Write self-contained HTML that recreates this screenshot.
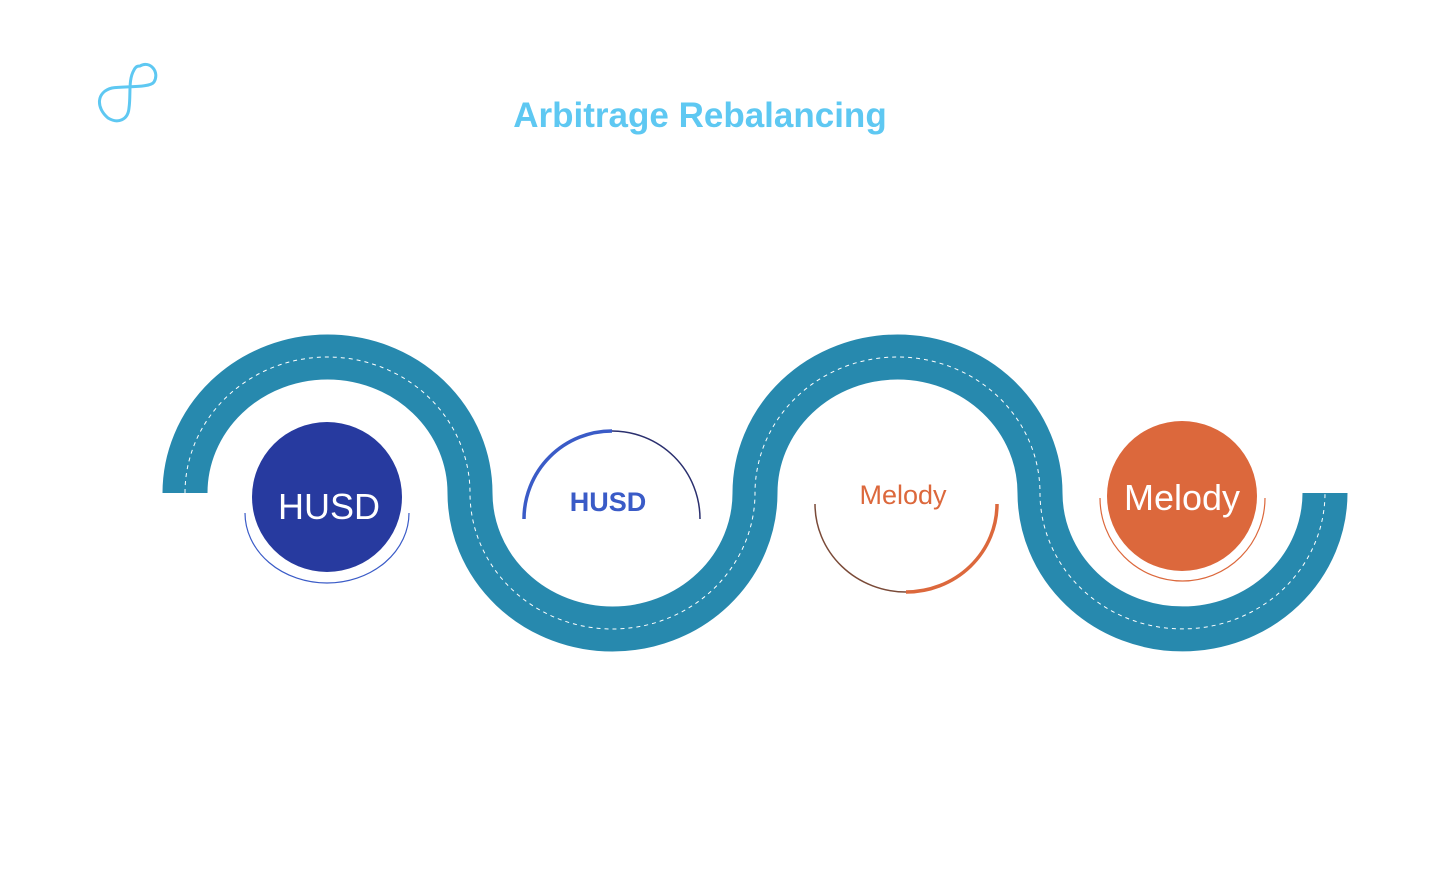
<!DOCTYPE html>
<html>
<head>
<meta charset="utf-8">
<style>
html,body{margin:0;padding:0;background:#fff;}
svg{display:block;}
text{font-family:"Liberation Sans",sans-serif;}
</style>
</head>
<body>
<svg width="1436" height="870" viewBox="0 0 1436 870">
  <g fill="none" stroke="#5ec8f2" stroke-width="3" stroke-linecap="round">
    <path d="M140 66 C150 60 160 72 154 82 C150 88 125 86 112 88 C96 92 96 108 108 118 C118 124 128 120 129 108 C131 95 128 80 134 70 C136 66 138 66 140 66 Z"/>
  </g>
  <text x="700" y="127" text-anchor="middle" font-size="35" font-weight="bold" fill="#5ec8f2">Arbitrage Rebalancing</text>

  <g>
    <path d="M185 493 A142.5 136 0 0 1 470 493 A142.5 136 0 0 0 755 493 A142.5 136 0 0 1 1040 493 A142.5 136 0 0 0 1325 493" fill="none" stroke="#2789ae" stroke-width="45"/>
    <path d="M185 493 A142.5 136 0 0 1 470 493 A142.5 136 0 0 0 755 493 A142.5 136 0 0 1 1040 493 A142.5 136 0 0 0 1325 493" fill="none" stroke="#ffffff" stroke-width="1" stroke-dasharray="4 4"/>
  </g>

  <g>
    <path d="M245 513 A82 70 0 0 0 409 513" fill="none" stroke="#3a5bc7" stroke-width="1.2"/>
    <circle cx="327" cy="497" r="75" fill="#273a9f"/>
    <text x="329" y="519" text-anchor="middle" font-size="36" fill="#ffffff">HUSD</text>
  </g>

  <g>
    <path d="M524 519 A88 88 0 0 1 612 431" fill="none" stroke="#3a5bc7" stroke-width="3.5"/>
    <path d="M612 431 A88 88 0 0 1 700 519" fill="none" stroke="#2a2f6e" stroke-width="1.5"/>
    <text x="608" y="511" text-anchor="middle" font-size="27" font-weight="bold" fill="#3a5bc7">HUSD</text>
  </g>

  <g>
    <path d="M815 504 A91 88 0 0 0 906 592" fill="none" stroke="#7a4a38" stroke-width="1.5"/>
    <path d="M906 592 A91 88 0 0 0 997 504" fill="none" stroke="#dc683c" stroke-width="3.5"/>
    <text x="903" y="504" text-anchor="middle" font-size="27" fill="#dc683c">Melody</text>
  </g>

  <g>
    <path d="M1100 498 A82.5 83 0 0 0 1265 498" fill="none" stroke="#dc683c" stroke-width="1.2"/>
    <circle cx="1182" cy="496" r="75" fill="#dc683c"/>
    <text x="1182" y="510" text-anchor="middle" font-size="36" fill="#ffffff">Melody</text>
  </g>
</svg>
</body>
</html>
